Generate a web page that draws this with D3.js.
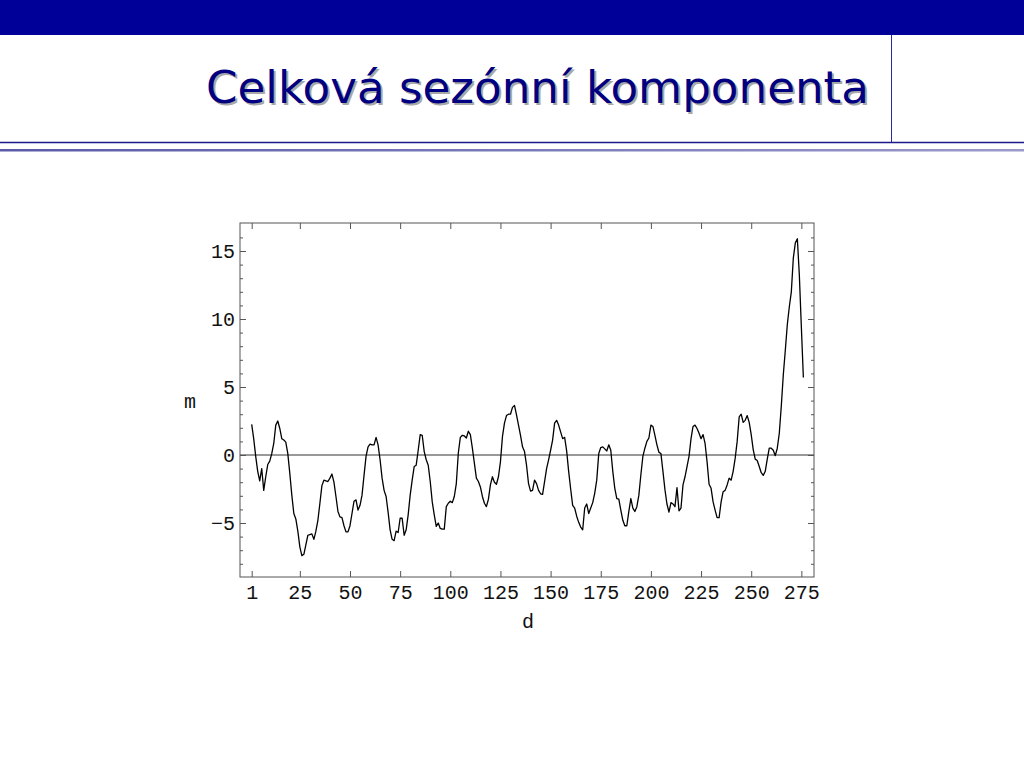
<!DOCTYPE html>
<html>
<head>
<meta charset="utf-8">
<script src="https://cdn.jsdelivr.net/npm/d3@7"></script>
<style>
  html, body { margin: 0; padding: 0; background: #ffffff; }
  svg { display: block; }
</style>
</head>
<body>
<svg id="chart" width="1024" height="768"></svg>
<script>
// ---- Data ----
const titleText = "Celková sezónní komponenta";
const xLabel = "d";
const yLabel = "m";
const xTickValues = [1, 25, 50, 75, 100, 125, 150, 175, 200, 225, 250, 275];
const yTickValues = [-5, 0, 5, 10, 15];
const yMinorTickValues = [-8, -7, -6, -4, -3, -2, -1, 1, 2, 3, 4, 6, 7, 8, 9, 11, 12, 13, 14, 16];
const seasonal = [
  2.25, 1.2, -0.1, -1.2, -1.9, -1.0, -2.6, -1.6, -0.7, -0.45,
  0.1, 0.85, 2.2, 2.5, 1.95, 1.2, 1.1, 0.95, 0.1, -1.35,
  -2.95, -4.3, -4.7, -5.6, -6.75, -7.4, -7.3, -6.6, -5.9, -5.85,
  -5.8, -6.2, -5.6, -4.8, -3.55, -2.25, -1.85, -1.9, -1.95, -1.7,
  -1.4, -2.0, -3.05, -4.15, -4.55, -4.6, -5.2, -5.65, -5.65, -5.2,
  -4.3, -3.4, -3.3, -4.05, -3.7, -2.95, -1.5, -0.1, 0.6, 0.8,
  0.75, 0.75, 1.3, 0.75, -0.35, -1.7, -2.6, -3.05, -4.2, -5.5,
  -6.2, -6.3, -5.6, -5.7, -4.65, -4.65, -5.9, -5.5, -4.4, -2.95,
  -1.85, -0.85, -0.75, 0.35, 1.5, 1.45, 0.25, -0.35, -0.75, -1.95,
  -3.45, -4.4, -5.25, -5.0, -5.4, -5.45, -5.45, -3.8, -3.55, -3.4,
  -3.5, -3.05, -2.1, 0.15, 1.3, 1.45, 1.4, 1.25, 1.75, 1.5,
  0.5, -0.6, -1.7, -1.95, -2.35, -3.05, -3.55, -3.8, -3.25, -2.2,
  -1.6, -2.0, -2.15, -1.6, -0.5, 1.35, 2.35, 2.9, 3.0, 3.0,
  3.5, 3.65, 2.95, 2.2, 1.45, 0.6, 0.25, -0.75, -2.1, -2.65,
  -2.6, -1.85, -2.1, -2.6, -2.85, -2.9, -1.95, -1.0, -0.35, 0.35,
  1.1, 2.35, 2.55, 2.2, 1.7, 1.2, 1.3, 0.3, -1.2, -2.5,
  -3.7, -3.9, -4.5, -4.95, -5.3, -5.5, -3.9, -3.6, -4.3, -3.9,
  -3.5, -2.8, -1.85, 0.1, 0.55, 0.6, 0.45, 0.3, 0.75, 0.35,
  -1.2, -2.45, -3.2, -3.25, -4.05, -4.8, -5.2, -5.2, -4.15, -3.2,
  -3.9, -4.15, -3.8, -2.95, -1.45, -0.1, 0.5, 1.0, 1.25, 2.2,
  2.1, 1.45, 0.75, 0.2, 0.1, -1.2, -2.55, -3.6, -4.2, -3.5,
  -3.6, -3.8, -2.4, -4.1, -3.9, -2.2, -1.6, -0.85, -0.1, 1.2,
  2.1, 2.2, 1.95, 1.6, 1.2, 1.5, 0.85, -0.5, -2.15, -2.45,
  -3.45, -4.05, -4.6, -4.6, -3.45, -2.7, -2.6, -2.2, -1.7, -1.85,
  -1.2, -0.25, 1.0, 2.8, 3.0, 2.4, 2.55, 2.9, 2.4, 1.5,
  0.4, -0.3, -0.4, -0.85, -1.3, -1.5, -1.2, -0.3, 0.5, 0.5,
  0.35, -0.05, 0.5, 1.6, 3.6, 5.9, 7.7, 9.6, 10.9, 12.0,
  14.5, 15.6, 15.9, 13.2, 9.4, 5.7
];
const days = seasonal.map((_, i) => i + 1);

// ---- Slide decoration ----
const svg = d3.select("#chart");
svg.append("rect").attr("x", 0).attr("y", 0).attr("width", 1024).attr("height", 35).attr("fill", "#000099");
svg.append("line").attr("x1", 891.5).attr("x2", 891.5).attr("y1", 35).attr("y2", 142)
  .attr("stroke", "#2a2aa0").attr("stroke-width", 1);
svg.append("line").attr("x1", 0).attr("x2", 1024).attr("y1", 142.5).attr("y2", 142.5)
  .attr("stroke", "#1a1a8c").attr("stroke-width", 1.5);
const defs = svg.append("defs");
const grad = defs.append("linearGradient").attr("id", "lineGrad").attr("x1", "0%").attr("x2", "100%");
grad.append("stop").attr("offset", "0%").attr("stop-color", "#5a5aa8");
grad.append("stop").attr("offset", "100%").attr("stop-color", "#9a9acc");
svg.append("rect").attr("x", 0).attr("y", 149).attr("width", 1024).attr("height", 2.5).attr("fill", "url(#lineGrad)");

const titleG = svg.append("g");
[["#a8a8a8", 2, 2], ["#000080", 0, 0]].forEach(([c, dx, dy]) => {
  titleG.append("text")
    .attr("x", 869 + dx).attr("y", 103 + dy)
    .attr("text-anchor", "end")
    .attr("font-family", "'DejaVu Sans', Verdana, sans-serif")
    .attr("font-size", 44)
    .attr("textLength", 663).attr("lengthAdjust", "spacingAndGlyphs")
    .attr("fill", c)
    .text(titleText);
});

// ---- Chart ----
const plotLeft = 240, plotRight = 814, plotTop = 223, plotBottom = 577;
const x = d3.scaleLinear().domain([-4.83, 281.3]).range([plotLeft, plotRight]);
const y = d3.scaleLinear().domain([-8.97, 17.06]).range([plotBottom, plotTop]);
const tickFont = "'Liberation Mono', 'Courier New', monospace";
const frameColor = "#555";

const g = svg.append("g");

// zero axis line
g.append("line").attr("x1", plotLeft).attr("x2", plotRight).attr("y1", y(0)).attr("y2", y(0))
  .attr("stroke", "#333").attr("stroke-width", 1);

function styleAxis(sel, showText) {
  sel.select(".domain").remove();
  sel.selectAll(".tick line").attr("stroke", frameColor).attr("stroke-width", 1);
  sel.selectAll("text").attr("font-family", tickFont).attr("font-size", 20).attr("fill", "#111");
  if (!showText) sel.selectAll("text").remove();
}

// left axis
g.append("g").attr("transform", `translate(${plotLeft},0)`)
  .call(d3.axisLeft(y).tickValues(yTickValues).tickSize(-6).tickPadding(5))
  .call(s => styleAxis(s, true));
g.append("g").attr("transform", `translate(${plotLeft},0)`)
  .call(d3.axisLeft(y).tickValues(yMinorTickValues).tickSize(-3).tickFormat(""))
  .call(s => styleAxis(s, false));
// right axis (mirror ticks)
g.append("g").attr("transform", `translate(${plotRight},0)`)
  .call(d3.axisRight(y).tickValues(yTickValues).tickSize(-6))
  .call(s => styleAxis(s, false));
g.append("g").attr("transform", `translate(${plotRight},0)`)
  .call(d3.axisRight(y).tickValues(yMinorTickValues).tickSize(-3).tickFormat(""))
  .call(s => styleAxis(s, false));
// bottom axis
g.append("g").attr("transform", `translate(0,${plotBottom})`)
  .call(d3.axisBottom(x).tickValues(xTickValues).tickSize(-6).tickPadding(8))
  .call(s => styleAxis(s, true));
// top axis (mirror ticks)
g.append("g").attr("transform", `translate(0,${plotTop})`)
  .call(d3.axisTop(x).tickValues(xTickValues).tickSize(-6))
  .call(s => styleAxis(s, false));

// frame
g.append("rect").attr("x", plotLeft).attr("y", plotTop).attr("width", plotRight - plotLeft).attr("height", plotBottom - plotTop)
  .attr("fill", "none").attr("stroke", frameColor).attr("stroke-width", 1);

// series line
const line = d3.line().x((d, i) => x(days[i])).y(d => y(d));
g.append("path").datum(seasonal)
  .attr("d", line)
  .attr("fill", "none").attr("stroke", "#000").attr("stroke-width", 1.3)
  .attr("stroke-linejoin", "round");

// axis labels
g.append("text").attr("x", 528).attr("y", 628).attr("text-anchor", "middle")
  .attr("font-family", tickFont).attr("font-size", 20).attr("fill", "#111").text(xLabel);
g.append("text").attr("x", 190).attr("y", 408).attr("text-anchor", "middle")
  .attr("font-family", tickFont).attr("font-size", 20).attr("fill", "#111").text(yLabel);
</script>
</body>
</html>
